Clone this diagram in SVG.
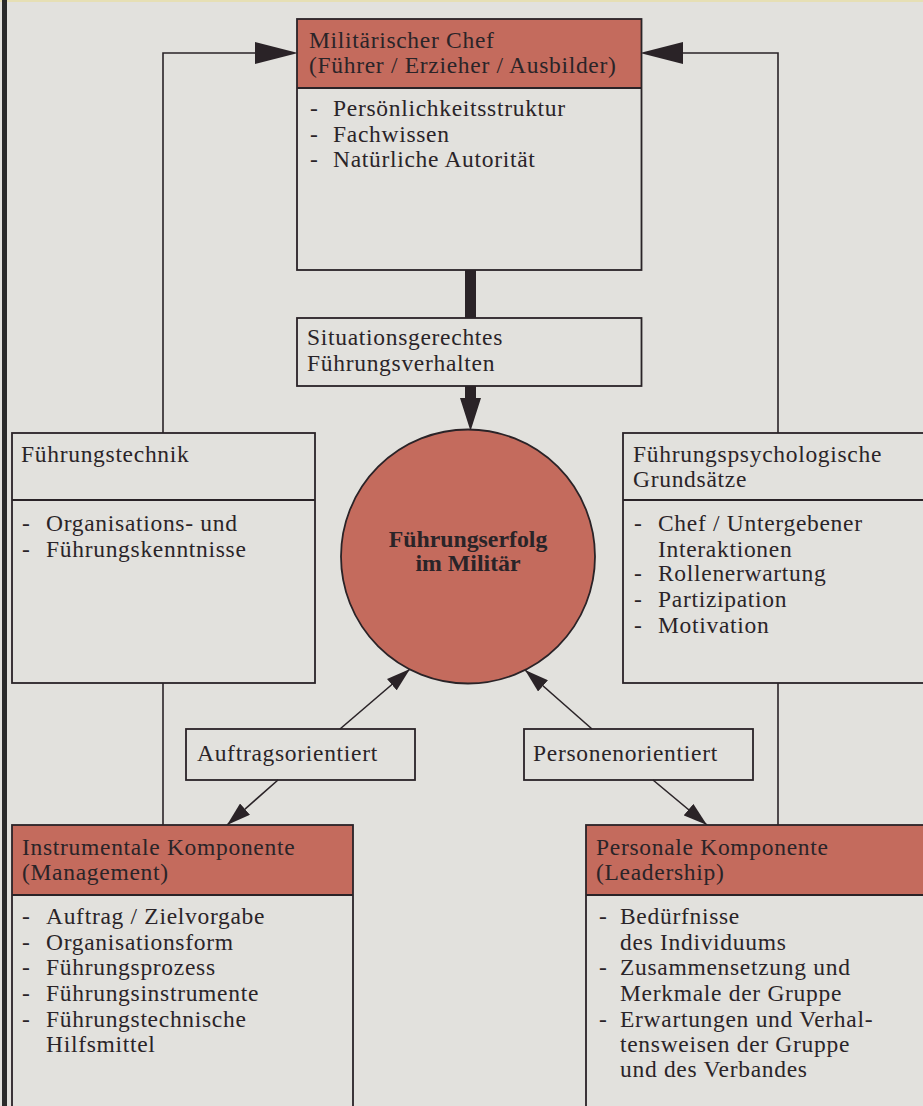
<svg xmlns="http://www.w3.org/2000/svg" width="923" height="1106" viewBox="0 0 923 1106">
<defs>
<style>
.bg{fill:#e2e1dd}
.box{fill:none;stroke:#2a2327;stroke-width:1.8}
.hdr{fill:#c46b5d}
.ln{fill:none;stroke:#2a2327;stroke-width:1.6}
.t{font-family:"Liberation Serif","Times New Roman",serif;font-size:23.5px;letter-spacing:0.7px;fill:#2a2428}
.b{font-family:"Liberation Serif","Times New Roman",serif;font-size:23.8px;font-weight:bold;fill:#2a2428}
.ah{fill:#2a2327}
</style>
<marker id="arr" viewBox="0 0 24 15" refX="24" refY="7.5" markerWidth="24" markerHeight="15" markerUnits="userSpaceOnUse" orient="auto">
<path d="M0,0 L24,7.5 L0,15 Z" class="ah"/>
</marker>
</defs>
<rect class="bg" x="0" y="0" width="923" height="1106"/>
<rect x="0" y="0" width="923" height="2" fill="#e6dfb4"/>
<rect x="2" y="0" width="5" height="1106" fill="#2a2a2a"/>

<g id="connectors">
<polyline class="ln" points="258,53 163,53 163,433"/>
<line class="ln" x1="163" y1="683" x2="163" y2="826"/>
<polyline class="ln" points="680,53 778,53 778,433"/>
<line class="ln" x1="778" y1="683" x2="778" y2="826"/>
<polygon class="ah" points="255,42 298,53 255,64"/>
<polygon class="ah" points="683,42 640,53 683,64"/>
<rect class="ah" x="465" y="270" width="11" height="48"/>
<polygon class="ah" points="465,386 476,386 476,398 481,398 470.5,431 460,398 465,398"/>
<line class="ln" x1="340" y1="729" x2="410" y2="669" marker-end="url(#arr)"/>
<line class="ln" x1="278" y1="780" x2="227" y2="825" marker-end="url(#arr)"/>
<line class="ln" x1="592" y1="729" x2="525" y2="670" marker-end="url(#arr)"/>
<line class="ln" x1="653" y1="780" x2="707" y2="825" marker-end="url(#arr)"/>
</g>

<g id="chef">
<rect class="hdr" x="297" y="19" width="344.5" height="69"/>
<rect class="box" x="297" y="19" width="344.5" height="251"/>
<line class="box" x1="297" y1="88" x2="641.5" y2="88"/>
<text class="t" x="309" y="48">Militärischer Chef</text>
<text class="t" x="309" y="73">(Führer / Erzieher / Ausbilder)</text>
<text class="t" x="310" y="116">-</text><text class="t" x="333" y="116">Persönlichkeitsstruktur</text>
<text class="t" x="310" y="141.5">-</text><text class="t" x="333" y="141.5">Fachwissen</text>
<text class="t" x="310" y="167">-</text><text class="t" x="333" y="167">Natürliche Autorität</text>
</g>

<g id="situation">
<rect class="box" x="297" y="318" width="344.5" height="68"/>
<text class="t" x="307" y="345">Situationsgerechtes</text>
<text class="t" x="307" y="371">Führungsverhalten</text>
</g>

<g id="erfolg">
<circle cx="468" cy="556.5" r="127" fill="#c46b5d" stroke="#2a2327" stroke-width="1.8"/>
<text class="b" x="468" y="547" text-anchor="middle">Führungserfolg</text>
<text class="b" x="468" y="571" text-anchor="middle">im Militär</text>
</g>

<g id="technik">
<rect class="box" x="12" y="433" width="303" height="250"/>
<line class="box" x1="12" y1="500" x2="315" y2="500"/>
<text class="t" x="21" y="462">Führungstechnik</text>
<text class="t" x="22" y="531">-</text><text class="t" x="46" y="531">Organisations- und</text>
<text class="t" x="22" y="557">-</text><text class="t" x="46" y="557">Führungskenntnisse</text>
</g>

<g id="psychologie">
<rect class="box" x="623" y="433" width="310" height="250"/>
<line class="box" x1="623" y1="500" x2="933" y2="500"/>
<text class="t" x="633" y="462">Führungspsychologische</text>
<text class="t" x="633" y="487">Grundsätze</text>
<text class="t" x="634" y="531">-</text><text class="t" x="658" y="531">Chef / Untergebener</text>
<text class="t" x="658" y="556.5">Interaktionen</text>
<text class="t" x="634" y="581">-</text><text class="t" x="658" y="581">Rollenerwartung</text>
<text class="t" x="634" y="607">-</text><text class="t" x="658" y="607">Partizipation</text>
<text class="t" x="634" y="633">-</text><text class="t" x="658" y="633">Motivation</text>
</g>

<g id="auftrag">
<rect class="box" x="186" y="729" width="229" height="51"/>
<text class="t" x="197" y="761">Auftragsorientiert</text>
</g>

<g id="personen">
<rect class="box" x="524" y="729" width="229" height="51"/>
<text class="t" x="533" y="761">Personenorientiert</text>
</g>

<g id="instrumentale">
<rect class="hdr" x="12" y="825" width="341" height="70"/>
<rect class="box" x="12" y="825" width="341" height="300"/>
<line class="box" x1="12" y1="895" x2="353" y2="895"/>
<text class="t" x="22" y="855">Instrumentale Komponente</text>
<text class="t" x="22" y="880">(Management)</text>
<text class="t" x="22" y="924">-</text><text class="t" x="46" y="924">Auftrag / Zielvorgabe</text>
<text class="t" x="22" y="949.5">-</text><text class="t" x="46" y="949.5">Organisationsform</text>
<text class="t" x="22" y="975">-</text><text class="t" x="46" y="975">Führungsprozess</text>
<text class="t" x="22" y="1001">-</text><text class="t" x="46" y="1001">Führungsinstrumente</text>
<text class="t" x="22" y="1026.5">-</text><text class="t" x="46" y="1026.5">Führungstechnische</text>
<text class="t" x="46" y="1052">Hilfsmittel</text>
</g>

<g id="personale">
<rect class="hdr" x="586" y="825" width="347" height="70"/>
<rect class="box" x="586" y="825" width="347" height="300"/>
<line class="box" x1="586" y1="895" x2="933" y2="895"/>
<text class="t" x="596" y="855">Personale Komponente</text>
<text class="t" x="596" y="880">(Leadership)</text>
<text class="t" x="599" y="924">-</text><text class="t" x="620" y="924">Bedürfnisse</text>
<text class="t" x="620" y="949.5">des Individuums</text>
<text class="t" x="599" y="975">-</text><text class="t" x="620" y="975">Zusammensetzung und</text>
<text class="t" x="620" y="1001">Merkmale der Gruppe</text>
<text class="t" x="599" y="1026.5">-</text><text class="t" x="620" y="1026.5">Erwartungen und Verhal-</text>
<text class="t" x="620" y="1052">tensweisen der Gruppe</text>
<text class="t" x="620" y="1077">und des Verbandes</text>
</g>
</svg>
